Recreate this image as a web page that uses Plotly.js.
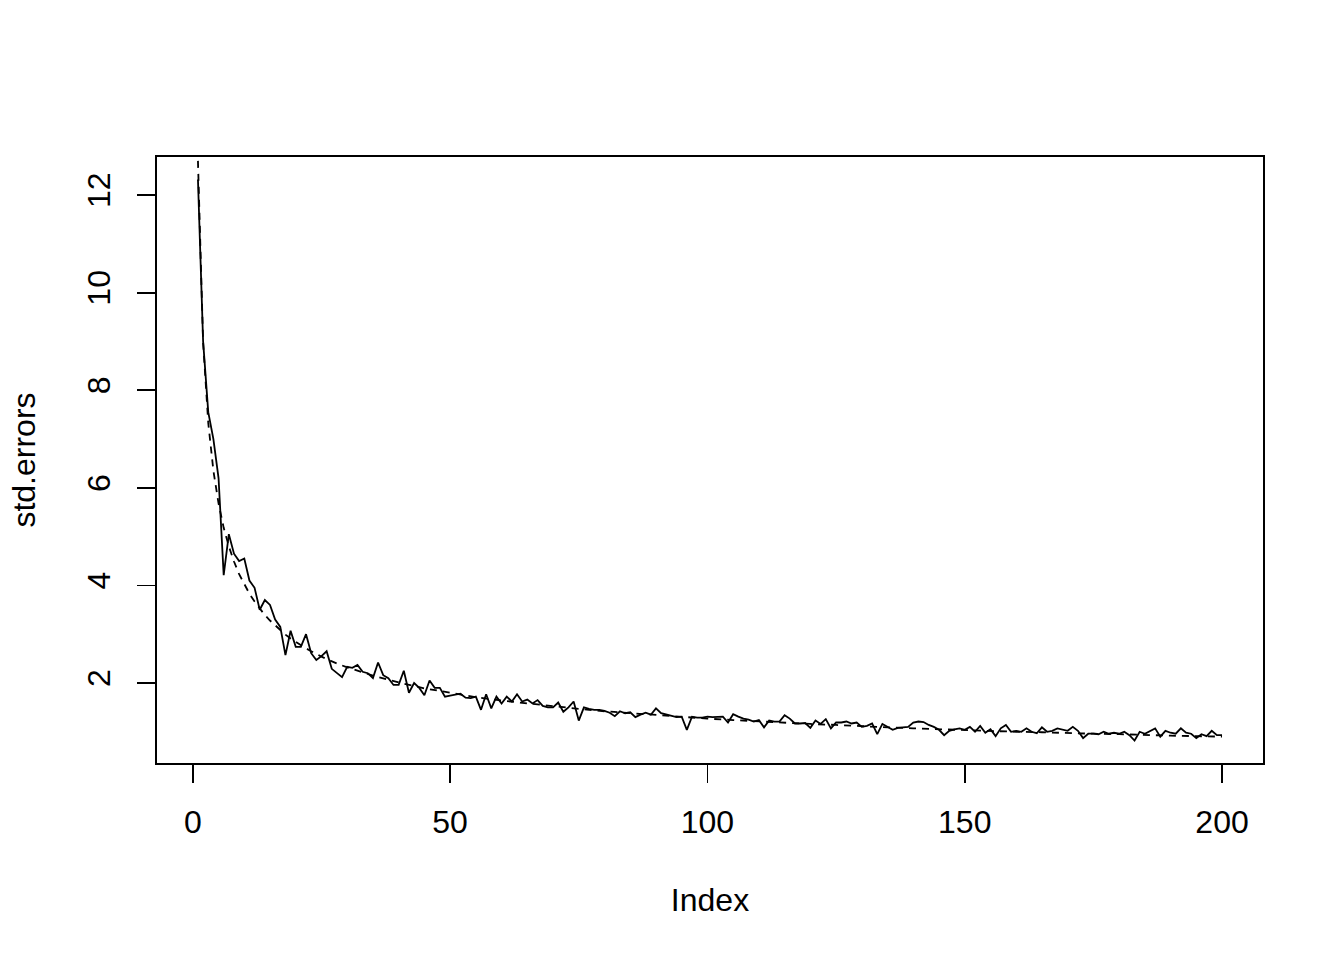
<!DOCTYPE html>
<html>
<head>
<meta charset="utf-8">
<script src="https://cdn.plot.ly/plotly-3.0.1.min.js"></script>
<style>html,body{margin:0;padding:0;background:#fff;}#chart{width:1344px;height:960px;}</style>
</head>
<body>
<div id="chart"></div>
<script>
// observed standard errors, index 1..200
const stdErrors = [
12.32, 9.0, 7.55, 7.0, 6.2, 4.21, 5.05, 4.65, 4.5, 4.55,
4.1, 3.95, 3.5, 3.7, 3.6, 3.3, 3.15, 2.57, 3.07, 2.74,
2.74, 3.0, 2.61, 2.47, 2.55, 2.65, 2.29, 2.21, 2.12, 2.33,
2.31, 2.37, 2.23, 2.2, 2.1, 2.42, 2.16, 2.1, 1.96, 1.96,
2.25, 1.8, 2.0, 1.9, 1.75, 2.05, 1.9, 1.9, 1.72, 1.74,
1.76, 1.78, 1.70, 1.69, 1.72, 1.45, 1.77, 1.48, 1.72, 1.58,
1.72, 1.62, 1.77, 1.62, 1.66, 1.58, 1.65, 1.53, 1.5, 1.5,
1.6, 1.41, 1.5, 1.62, 1.23, 1.5, 1.47, 1.45, 1.45, 1.43,
1.39, 1.32, 1.42, 1.38, 1.40, 1.3, 1.35, 1.39, 1.35, 1.48,
1.38, 1.35, 1.33, 1.3, 1.31, 1.04, 1.31, 1.29, 1.29, 1.31,
1.30, 1.31, 1.31, 1.19, 1.36, 1.31, 1.27, 1.25, 1.21, 1.24,
1.09, 1.23, 1.21, 1.21, 1.34, 1.27, 1.17, 1.17, 1.18, 1.08,
1.23, 1.16, 1.26, 1.07, 1.19, 1.19, 1.21, 1.17, 1.19, 1.1,
1.12, 1.17, 0.95, 1.16, 1.1, 1.04, 1.08, 1.09, 1.1, 1.19,
1.21, 1.2, 1.14, 1.1, 1.04, 0.93, 1.02, 1.05, 1.07, 1.04,
1.10, 1.0, 1.12, 0.98, 1.05, 0.91, 1.07, 1.14, 1.0, 1.02,
1.0, 1.07, 1.0, 0.97, 1.09, 1.0, 1.02, 1.07, 1.04, 1.02,
1.10, 1.02, 0.87, 0.96, 0.96, 0.95, 1.0, 0.96, 0.98, 0.96,
1.0, 0.93, 0.82, 1.0, 0.96, 1.02, 1.07, 0.90, 1.02, 0.98,
0.96, 1.07, 0.98, 0.96, 0.87, 0.95, 0.91, 1.02, 0.93, 0.93
];
const index = stdErrors.map((v, i) => i + 1);

// reference (dashed) curve, read at these indices
const refIndex = [1,2,3,4,5,6,7,8,9,10,11,12,13,14,15,16,17,18,19,20,21,22,23,24,25,26,27,28,29,30,
35,40,45,50,55,60,65,70,75,80,85,90,95,100,105,110,115,120,125,130,135,140,145,150,155,160,165,170,175,180,185,190,195,200];
const refValues = [12.70,8.98,7.33,6.35,5.68,5.18,4.80,4.49,4.23,4.02,3.83,3.67,3.52,3.39,3.28,3.18,3.08,2.99,2.91,2.84,2.77,2.71,2.65,2.59,2.54,2.49,2.44,2.40,2.36,2.32,
2.15,2.01,1.89,1.80,1.71,1.64,1.58,1.52,1.47,1.42,1.38,1.34,1.30,1.27,1.24,1.21,1.18,1.16,1.14,1.11,1.09,1.07,1.05,1.04,1.02,1.00,0.99,0.97,0.96,0.95,0.93,0.92,0.91,0.90];

const xTicks = [0, 50, 100, 150, 200];
const yTicks = [2, 4, 6, 8, 10, 12];

const font = {family: 'Liberation Sans, Arial, sans-serif', size: 32, color: '#000'};

const traces = [
  {x: index, y: stdErrors, type: 'scatter', mode: 'lines',
   line: {color: '#000', width: 1.8}, hoverinfo: 'skip'},
  {x: refIndex, y: refValues, type: 'scatter', mode: 'lines',
   line: {color: '#000', width: 1.8, dash: '7px,6px'}, hoverinfo: 'skip'}
];

const layout = {
  width: 1344, height: 960,
  paper_bgcolor: '#fff', plot_bgcolor: '#fff',
  showlegend: false,
  font: font,
  margin: {l: 157, r: 81, t: 157, b: 197, pad: 0},
  xaxis: {
    range: [-6.96, 207.96], tickvals: xTicks, ticktext: xTicks.map(String),
    showgrid: false, zeroline: false,
    showline: true, mirror: true, linecolor: '#000', linewidth: 1.8,
    ticks: 'outside', ticklen: 18, tickwidth: 1.8, tickcolor: '#000',
    ticklabelstandoff: 12,
    tickfont: font,
    title: {text: 'Index', font: font, standoff: 49},
    automargin: false
  },
  yaxis: {
    range: [0.36, 12.78], tickvals: yTicks, ticktext: yTicks.map(String),
    showgrid: false, zeroline: false,
    showline: true, mirror: true, linecolor: '#000', linewidth: 1.8,
    ticks: 'outside', ticklen: 18, tickwidth: 1.8, tickcolor: '#000',
    tickangle: -90, ticklabelstandoff: 14,
    tickfont: font,
    title: {text: 'std.errors', font: font, standoff: 36},
    automargin: false
  }
};

Plotly.newPlot('chart', traces, layout, {staticPlot: true, displayModeBar: false});
</script>
</body>
</html>
